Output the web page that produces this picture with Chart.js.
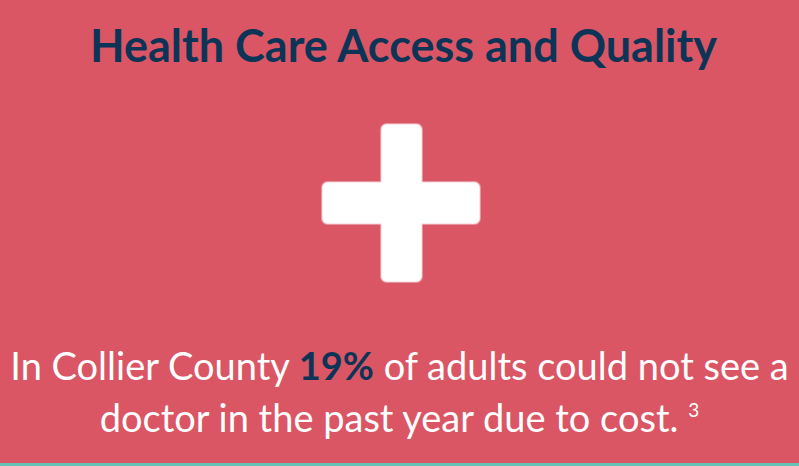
<!DOCTYPE html>
<html>
<head>
<meta charset="utf-8">
<script src="https://cdn.jsdelivr.net/npm/chart.js@4"></script>
<style>
  html, body { margin: 0; padding: 0; }
  body {
    width: 799px; height: 466px; overflow: hidden; position: relative;
    background: #da5664; font-family: Lato, "Open Sans", sans-serif;
  }
  #title {
    position: absolute; left: 4px; width: 799px; top: 15px;
    text-align: center; font-weight: 700; font-size: 45px; line-height: 60px;
    color: #0c3457; white-space: nowrap;
  }
  #iconWrap { position: absolute; left: 2px; top: 100px; width: 799px; height: 207px; }
  #caption {
    position: absolute; left: 0; width: 799px; top: 339px;
    text-align: center; font-size: 38px; line-height: 52px; color: #ffffff;
  }
  #caption b { color: #0c3457; font-weight: 700; }
  #caption sup { font-size: 19px; vertical-align: 0; position: relative; top: -15px; }
  #edge { position: absolute; left: 0; bottom: 0; width: 799px; height: 3px; background: #66c2b7; }
</style>
</head>
<body>
<div id="title"></div>
<div id="iconWrap"><canvas id="iconChart"></canvas></div>
<div id="caption"></div>
<div id="edge"></div>
<script>
// figures shown on the card
const topic = ['Health Care Access and Quality'];
const county = ['Collier County'];
const sharePct = [19];
const footnote = ['3'];
// single icon point in the middle of the card
const iconX = [0];
const iconY = [0];

document.getElementById('title').textContent = topic[0];
document.getElementById('caption').innerHTML =
    'In ' + county[0] + ' <b>' + sharePct[0] + '%</b> of adults could not see a<br>' +
    'doctor in the past year due to cost. <sup>' + footnote[0] + '</sup>';

// medical cross drawn onto an offscreen canvas, used as the point style
function makeCross() {
    const c = document.createElement('canvas');
    c.width = 162; c.height = 162;
    const g = c.getContext('2d');
    const rects = [[61, 2, 40, 157], [2, 60, 157, 41]];
    g.strokeStyle = '#f6d3d8';
    g.lineWidth = 2;
    rects.forEach(r => { g.beginPath(); g.roundRect(r[0], r[1], r[2], r[3], 5); g.stroke(); });
    g.fillStyle = '#ffffff';
    rects.forEach(r => { g.beginPath(); g.roundRect(r[0], r[1], r[2], r[3], 5); g.fill(); });
    return c;
}

const ctx = document.getElementById('iconChart');
new Chart(ctx, {
    type: 'scatter',
    data: {
        datasets: [{
            data: iconX.map((x, i) => ({ x: x, y: iconY[i] })),
            pointStyle: makeCross(),
            pointRadius: 80,
            clip: false
        }]
    },
    options: {
        responsive: true,
        maintainAspectRatio: false,
        animation: false,
        layout: { padding: 0 },
        scales: {
            x: { display: false, min: -1, max: 1 },
            y: { display: false, min: -1, max: 1 }
        },
        plugins: {
            legend: { display: false },
            tooltip: { enabled: false }
        }
    }
});
</script>
</body>
</html>
